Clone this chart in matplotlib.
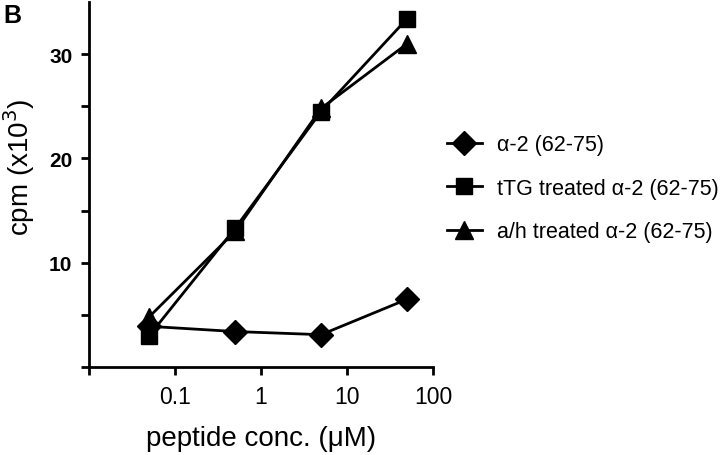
import matplotlib
matplotlib.use("Agg")
import matplotlib.pyplot as plt
from matplotlib.ticker import FixedLocator, FixedFormatter

plt.rcParams['font.family'] = ['Liberation Sans', 'DejaVu Sans']

conc = [0.05, 0.5, 5, 50]
alpha2 = [3.9, 3.4, 3.1, 6.5]
ttg = [3.0, 13.3, 24.5, 33.4]
ah = [4.8, 13.0, 24.8, 31.0]
labels = ["α-2 (62-75)", "tTG treated α-2 (62-75)", "a/h treated α-2 (62-75)"]

fig = plt.figure(figsize=(7.2, 4.56), dpi=100)
ax = fig.add_axes([89/720, 1-368/456, (433-89)/720, (368-3)/456])

ax.plot(conc, alpha2, color='black', lw=2, marker='D', ms=12, label=labels[0], zorder=3)
ax.plot(conc, ttg, color='black', lw=2, marker='s', ms=12, label=labels[1], zorder=4)
ax.plot(conc, ah, color='black', lw=2, marker='^', ms=13, label=labels[2], zorder=3)

ax.set_xscale('log')
ax.set_xlim(0.01, 100)
ax.set_ylim(0, 35)
ax.spines['top'].set_visible(False)
ax.spines['right'].set_visible(False)
for s in ['left', 'bottom']:
    ax.spines[s].set_linewidth(2)

ax.xaxis.set_major_locator(FixedLocator([0.01, 0.1, 1, 10, 100]))
ax.xaxis.set_major_formatter(FixedFormatter(["", "0.1", "1", "10", "100"]))
ax.xaxis.set_minor_locator(FixedLocator([]))
ax.yaxis.set_major_locator(FixedLocator([0, 5, 10, 15, 20, 25, 30]))
ax.yaxis.set_major_formatter(FixedFormatter(["", "", "10", "", "20", "", "30"]))
ax.tick_params(axis='both', which='major', direction='out', length=6, width=2)
ax.tick_params(axis='x', labelsize=16.5, pad=7)
ax.tick_params(axis='y', labelsize=15, pad=6)
for t in ax.get_yticklabels():
    t.set_fontweight('bold')

ax.set_xlabel("peptide conc. (μM)", fontsize=20)
ax.set_ylabel("cpm (x10$^3$)", fontsize=20)
ax.xaxis.set_label_coords(0.5, -0.16)
ax.yaxis.set_label_coords(-0.15, 0.55)

fig.text(3/720, 1-4/456, "B", fontsize=18, fontweight='bold', va='top', ha='left')

leg = ax.legend(loc='center left', bbox_to_anchor=(0.985, 0.49), frameon=False,
                fontsize=15.5, handlelength=1.6, labelspacing=1.05, handletextpad=0.7,
                markerscale=1.0)

fig.savefig("out.png", dpi=100)
